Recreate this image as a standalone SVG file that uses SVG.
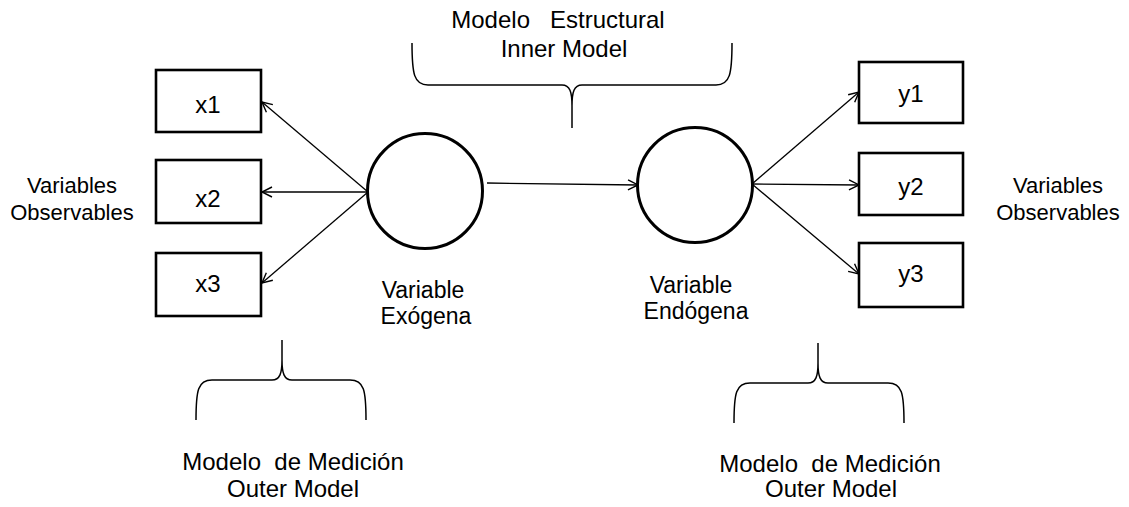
<svg xmlns="http://www.w3.org/2000/svg" width="1129" height="507" viewBox="0 0 1129 507">
  <defs>
    <marker id="arrow" markerUnits="userSpaceOnUse" markerWidth="14" markerHeight="14" viewBox="-12 -7 14 14" refX="0" refY="0" orient="auto">
      <path d="M-10,-5 L0,0 L-10,5" fill="none" stroke="#000" stroke-width="1.4"/>
    </marker>
  </defs>
  <style>
    text { font-family: "Liberation Sans", Arial, sans-serif; font-size: 23px; fill: #000; text-anchor: middle; white-space: pre; }
    .lg { font-size: 24px; }
    .sm { font-size: 22px; }
    .box { fill: #fff; stroke: #000; stroke-width: 2.6; }
    .latent { fill: #fff; stroke: #000; stroke-width: 3; }
    .edge { fill: none; stroke: #000; stroke-width: 1.3; marker-end: url(#arrow); }
    .brace { fill: none; stroke: #000; stroke-width: 1.5; }
  </style>
  <rect width="1129" height="507" fill="#fff"/>

  <!-- connectors -->
  <g id="connectors">
    <line class="edge" x1="368" y1="192" x2="262" y2="102"/>
    <line class="edge" x1="368" y1="192" x2="262" y2="192"/>
    <line class="edge" x1="368" y1="192" x2="262" y2="283"/>
    <line class="edge" x1="487" y1="183" x2="638" y2="185"/>
    <line class="edge" x1="752" y1="184" x2="859" y2="92"/>
    <line class="edge" x1="752" y1="184" x2="859" y2="185"/>
    <line class="edge" x1="752" y1="184" x2="859" y2="274"/>
  </g>

  <!-- indicator boxes, exogenous side -->
  <g id="x1"><rect class="box" x="156" y="70" width="105" height="62"/><text class="lg" x="208" y="113">x1</text></g>
  <g id="x2"><rect class="box" x="156" y="160" width="105" height="63"/><text class="lg" x="208" y="207">x2</text></g>
  <g id="x3"><rect class="box" x="156" y="253" width="105" height="63"/><text class="lg" x="208" y="292">x3</text></g>

  <!-- latent variables -->
  <g id="exogena"><circle class="latent" cx="425" cy="191" r="57.5"/></g>
  <g id="endogena"><circle class="latent" cx="695" cy="185" r="57.5"/></g>

  <!-- indicator boxes, endogenous side -->
  <g id="y1"><rect class="box" x="859" y="62" width="104" height="61"/><text class="lg" x="911" y="102">y1</text></g>
  <g id="y2"><rect class="box" x="859" y="153" width="104" height="62"/><text class="lg" x="911" y="195">y2</text></g>
  <g id="y3"><rect class="box" x="859" y="243" width="104" height="64"/><text class="lg" x="911" y="282">y3</text></g>

  <!-- braces -->
  <g id="brace-inner">
    <path class="brace" d="M412,43 C412,74 414,85 428,85 L562,85 C570,85 572,92 572,106 L572,128 M572,106 C572,92 574,85 582,85 L716,85 C730,85 732,74 732,43"/>
  </g>
  <g id="brace-outer-left">
    <path class="brace" d="M196,420 C196,390 198,380 212,380 L272,380 C280,380 282,373 282,360 L282,340 M282,360 C282,373 284,380 292,380 L350,380 C364,380 366,390 366,420"/>
  </g>
  <g id="brace-outer-right">
    <path class="brace" d="M734,423 C734,393 736,383 750,383 L808,383 C816,383 818,376 818,363 L818,343 M818,363 C818,376 820,383 828,383 L888,383 C902,383 904,393 904,423"/>
  </g>

  <!-- labels -->
  <g id="labels">
    <text class="lg" x="558" y="28">Modelo   Estructural</text>
    <text class="lg" x="564" y="57">Inner Model</text>
    <text class="sm" x="72" y="193">Variables</text>
    <text class="sm" x="72" y="220">Observables</text>
    <text class="sm" x="1058" y="193">Variables</text>
    <text class="sm" x="1058" y="220">Observables</text>
    <text x="423" y="298">Variable</text>
    <text x="426" y="324">Exógena</text>
    <text x="691" y="293">Variable</text>
    <text x="696" y="319">Endógena</text>
    <text class="lg" x="293" y="470">Modelo  de Medición</text>
    <text class="lg" x="293" y="497">Outer Model</text>
    <text class="lg" x="830" y="472">Modelo  de Medición</text>
    <text class="lg" x="831" y="497">Outer Model</text>
  </g>
</svg>
